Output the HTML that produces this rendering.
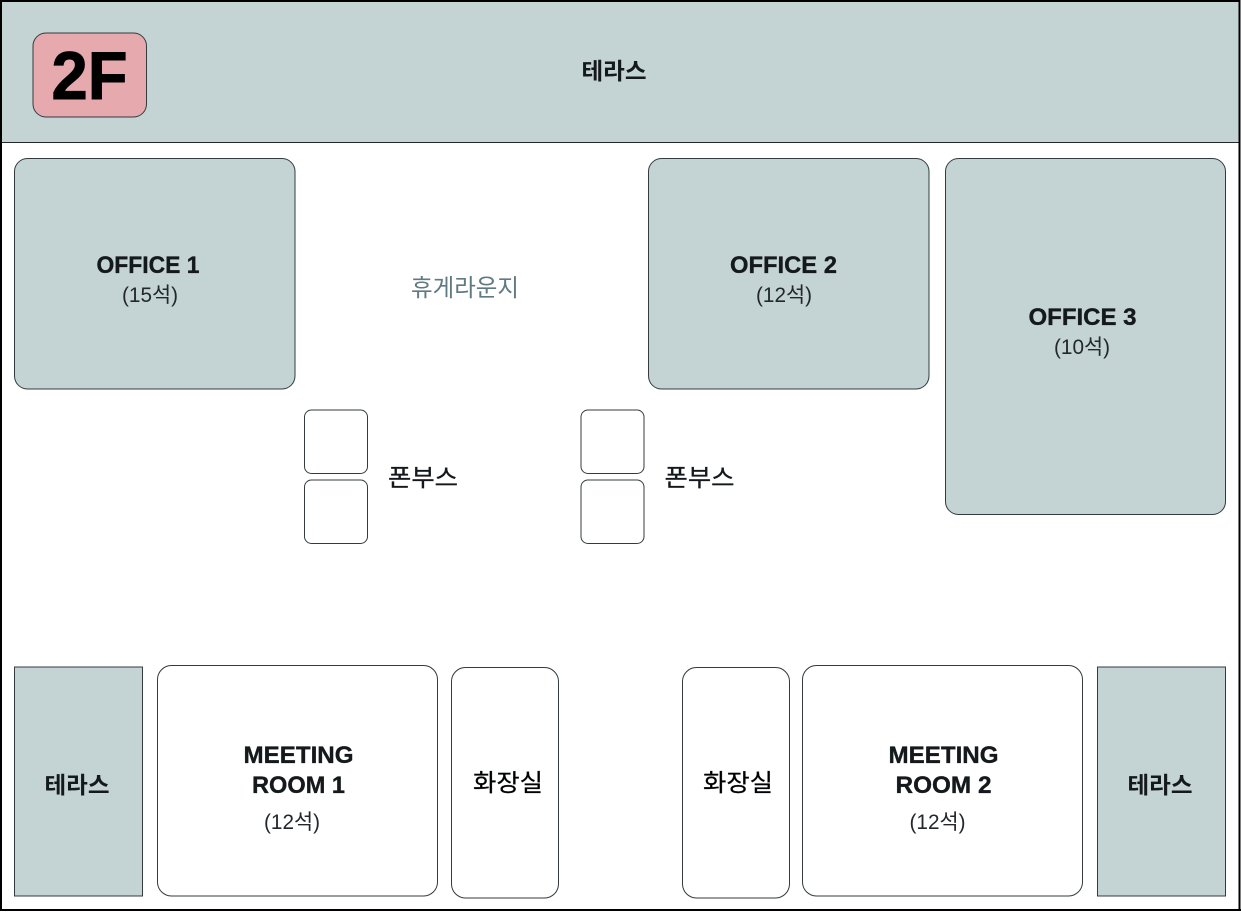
<!DOCTYPE html>
<html lang="ko">
<head>
<meta charset="utf-8">
<title>2F</title>
<style>
html,body{margin:0;padding:0;background:#fff;width:1241px;height:912px;overflow:hidden}
svg{display:block}
text{font-family:"Liberation Sans","Noto Sans CJK KR",sans-serif;text-anchor:middle;fill:#14191c}
.b{font-weight:700;font-size:24px;stroke:#14191c;stroke-width:.35px}
.k{font-family:"Noto Sans CJK KR","Liberation Sans",sans-serif}
.kb{font-family:"Noto Sans CJK KR","Liberation Sans",sans-serif;font-weight:700;font-size:23px}
.s{font-family:"Liberation Sans","Noto Sans CJK KR",sans-serif;font-size:21px;font-weight:400;fill:#22282b}
.m{font-family:"Noto Sans CJK KR","Liberation Sans",sans-serif;font-size:24px;font-weight:400;stroke:#14191c;stroke-width:.3px}
rect{stroke:#333b3e;stroke-width:1}
</style>
</head>
<body>
<svg width="1241" height="912" viewBox="0 0 1241 912" xmlns="http://www.w3.org/2000/svg">
<rect x="0" y="0" width="1241" height="912" fill="#fff" stroke="none" style="stroke:none"/>
<rect x="1.5" y="1.5" width="1237.5" height="141" fill="#c4d3d3" style="stroke:#22282b"/>
<rect x="1" y="1" width="1238.5" height="909" fill="none" style="stroke:#000;stroke-width:2"/>
<rect x="0" y="909" width="1241" height="2" fill="#000" style="stroke:none"/>

<rect x="33" y="33" width="113.5" height="84" rx="13" fill="#e6aaae"/>
<text x="89.5" y="99" style="font-size:68px;font-weight:700;fill:#000;stroke:#000;stroke-width:1px" textLength="76" lengthAdjust="spacingAndGlyphs">2F</text>
<text class="kb" x="614" y="79" textLength="65" lengthAdjust="spacingAndGlyphs">테라스</text>

<rect x="14.5" y="158.5" width="280.5" height="230.5" rx="13" fill="#c4d3d3"/>
<text class="b" x="148" y="273" textLength="103" lengthAdjust="spacingAndGlyphs">OFFICE 1</text>
<text class="s" x="150" y="302" textLength="56" lengthAdjust="spacingAndGlyphs">(15석)</text>

<rect x="648.5" y="158.5" width="280.5" height="230.5" rx="13" fill="#c4d3d3"/>
<text class="b" x="783.5" y="273" textLength="107" lengthAdjust="spacingAndGlyphs">OFFICE 2</text>
<text class="s" x="784" y="302" textLength="56" lengthAdjust="spacingAndGlyphs">(12석)</text>

<rect x="945.5" y="158.5" width="280" height="356" rx="13" fill="#c4d3d3"/>
<text class="b" x="1082.5" y="325" textLength="108" lengthAdjust="spacingAndGlyphs">OFFICE 3</text>
<text class="s" x="1082" y="354" textLength="56" lengthAdjust="spacingAndGlyphs">(10석)</text>

<text class="k" x="465" y="296" style="font-size:24px;fill:#607a82" textLength="108" lengthAdjust="spacingAndGlyphs">휴게라운지</text>

<rect x="304.5" y="410" width="63" height="63.5" rx="7" fill="#fff"/>
<rect x="304.5" y="480" width="63" height="63.5" rx="7" fill="#fff"/>
<rect x="581" y="410" width="63" height="63.5" rx="7" fill="#fff"/>
<rect x="581" y="480" width="63" height="63.5" rx="7" fill="#fff"/>
<text class="m" x="423" y="486" textLength="70" lengthAdjust="spacingAndGlyphs">폰부스</text>
<text class="m" x="699.5" y="486" textLength="70" lengthAdjust="spacingAndGlyphs">폰부스</text>

<rect x="14.5" y="667" width="128" height="229" fill="#c4d3d3"/>
<text class="kb" x="77" y="793" textLength="65" lengthAdjust="spacingAndGlyphs">테라스</text>

<rect x="157.5" y="665.5" width="280" height="230.5" rx="14" fill="#fff"/>
<text class="b" x="298.5" y="763" textLength="110" lengthAdjust="spacingAndGlyphs">MEETING</text>
<text class="b" x="298.5" y="793" textLength="93" lengthAdjust="spacingAndGlyphs">ROOM 1</text>
<text class="s" x="292" y="829" textLength="56" lengthAdjust="spacingAndGlyphs">(12석)</text>

<rect x="451.5" y="667.5" width="107" height="230.5" rx="14" fill="#fff"/>
<text class="m" x="508" y="791" textLength="70" lengthAdjust="spacingAndGlyphs" style="fill:#000">화장실</text>

<rect x="682.5" y="667.5" width="107" height="230.5" rx="14" fill="#fff"/>
<text class="m" x="738" y="791" textLength="70" lengthAdjust="spacingAndGlyphs" style="fill:#000">화장실</text>

<rect x="802.5" y="665.5" width="280" height="230.5" rx="14" fill="#fff"/>
<text class="b" x="943.5" y="763" textLength="110" lengthAdjust="spacingAndGlyphs">MEETING</text>
<text class="b" x="943.5" y="793" textLength="96" lengthAdjust="spacingAndGlyphs">ROOM 2</text>
<text class="s" x="937.5" y="829" textLength="56" lengthAdjust="spacingAndGlyphs">(12석)</text>

<rect x="1097.5" y="667" width="128" height="229" fill="#c4d3d3"/>
<text class="kb" x="1160" y="793" textLength="65" lengthAdjust="spacingAndGlyphs">테라스</text>
</svg>
</body>
</html>
